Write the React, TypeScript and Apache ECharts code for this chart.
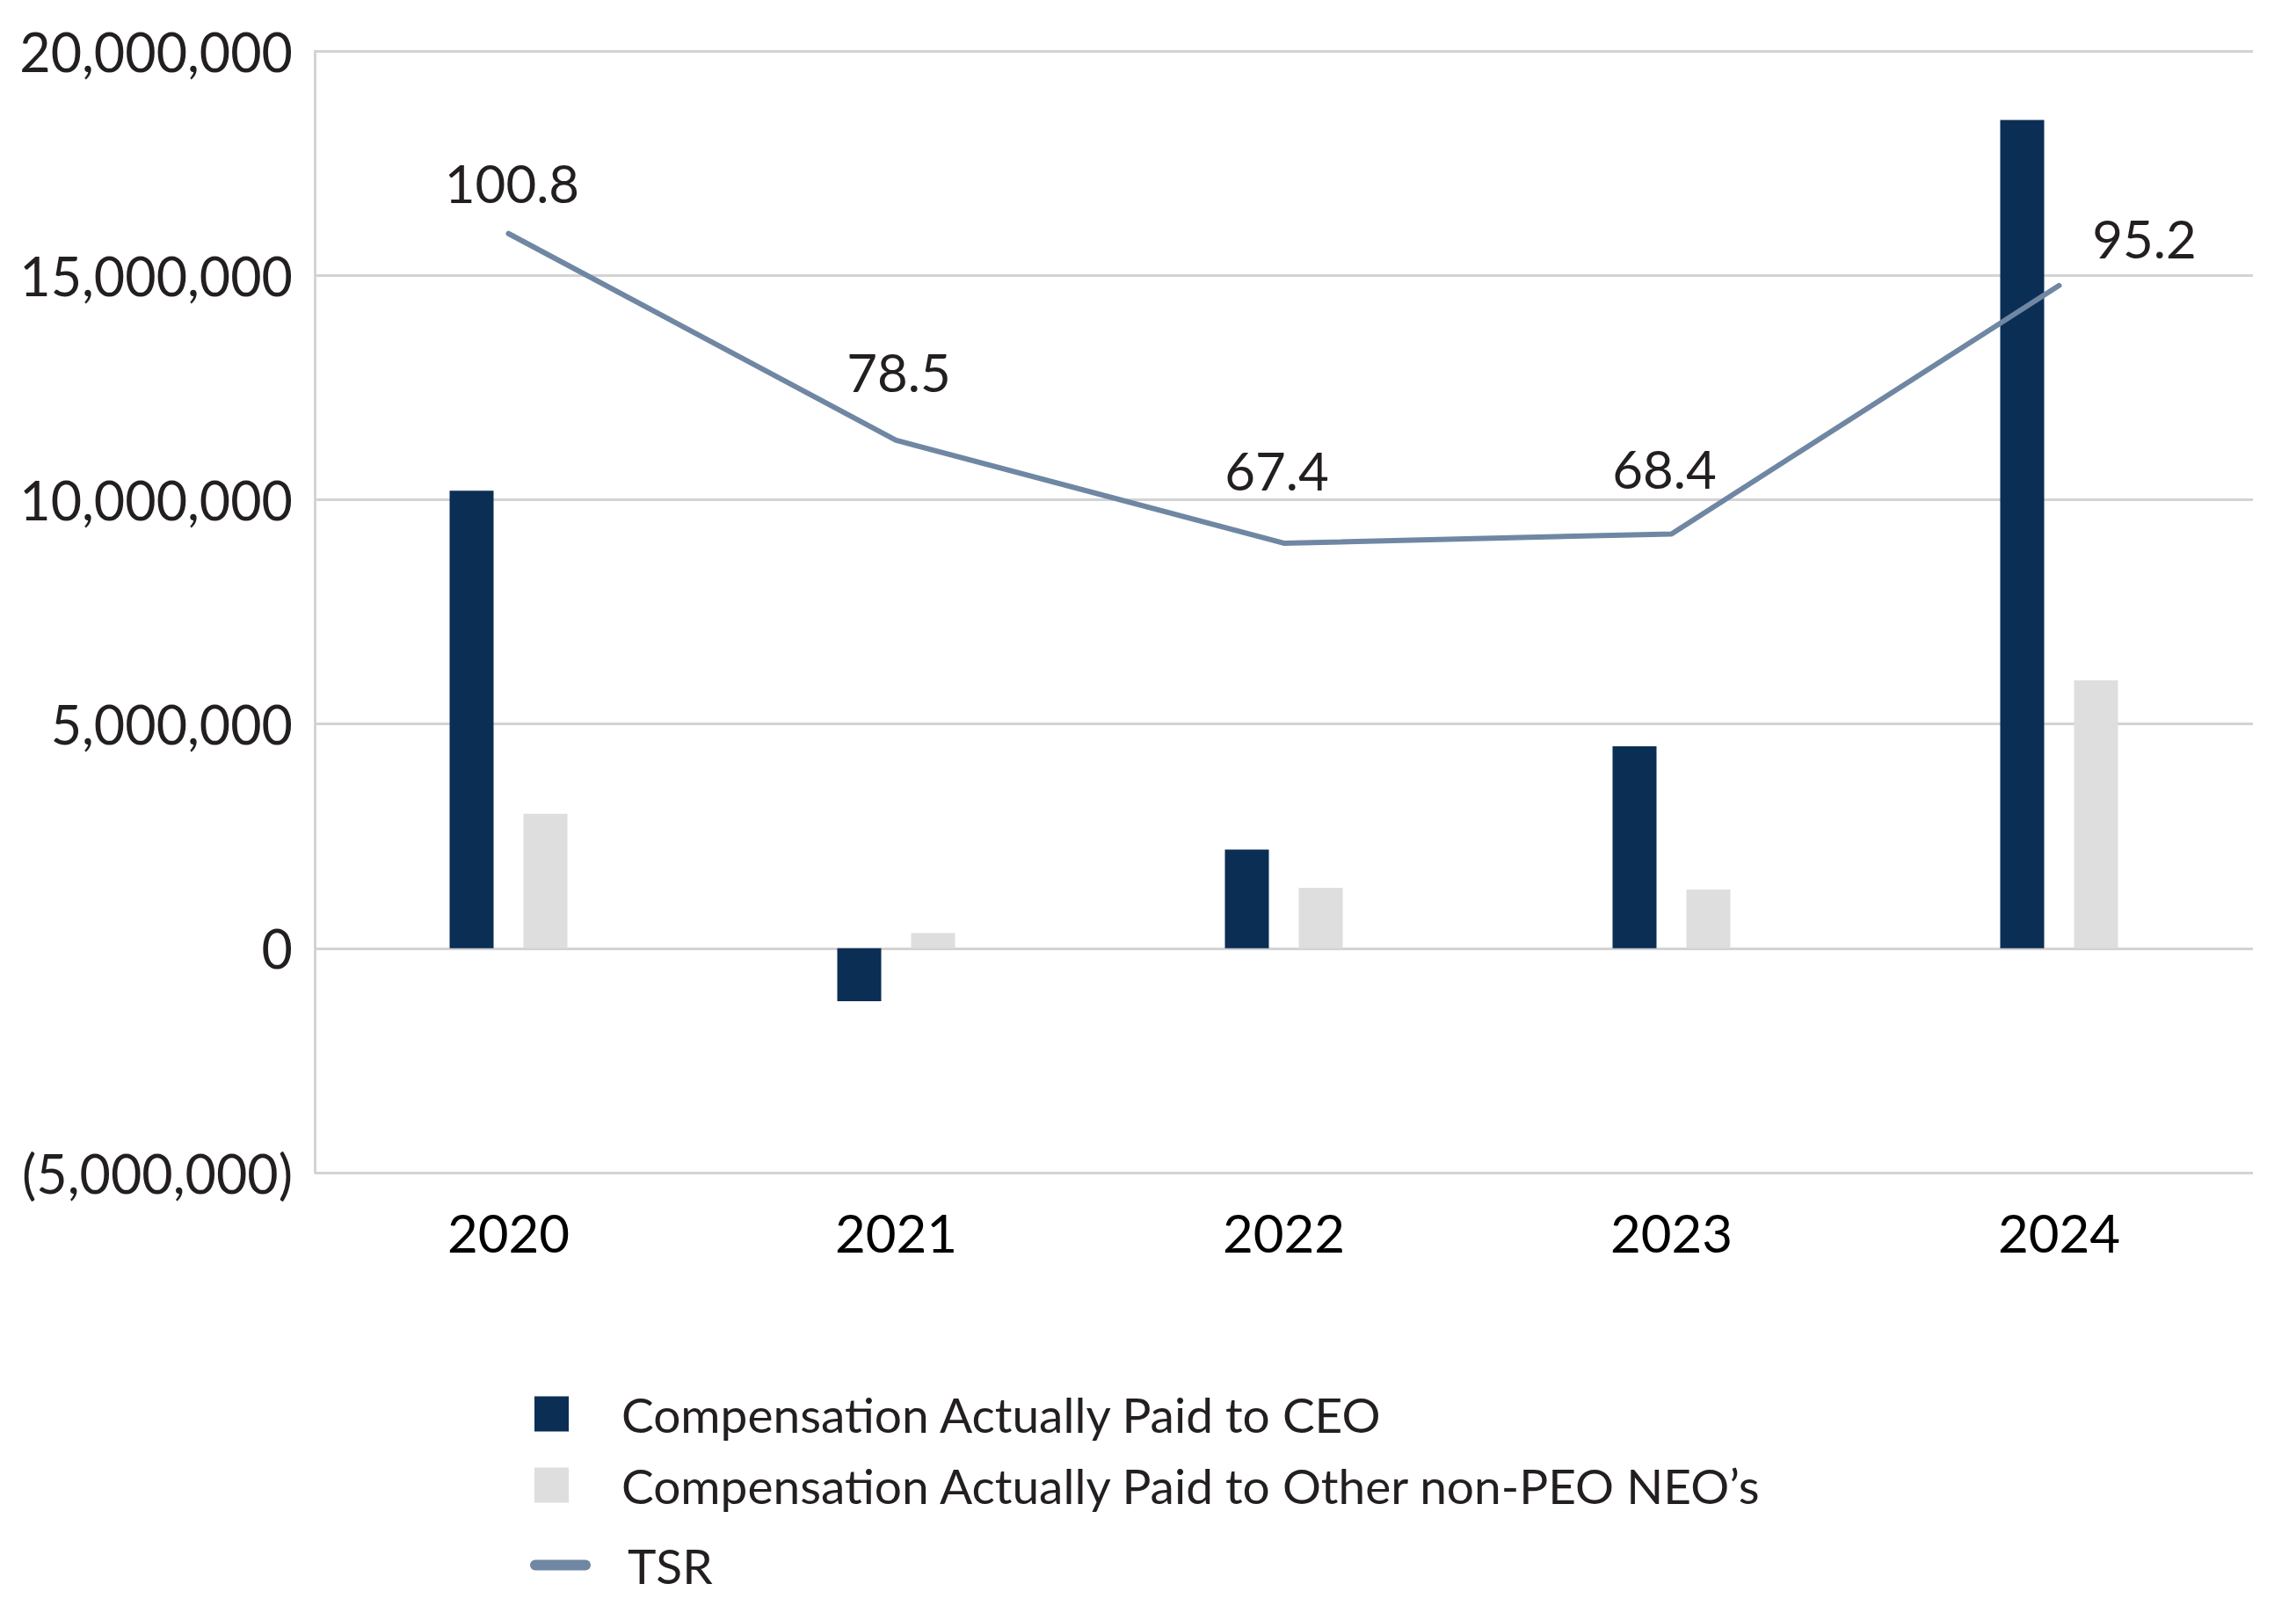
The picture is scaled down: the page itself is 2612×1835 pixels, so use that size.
import React, { useEffect, useRef } from "react";
import * as echarts from "echarts";

const years = ["2020", "2021", "2022", "2023", "2024"];
const ceoPaid = [10200000, -1180000, 2200000, 4500000, 18460000];
const otherPaid = [3000000, 340000, 1350000, 1310000, 5970000];
const tsr = [100.8, 78.5, 67.4, 68.4, 95.2];
const tsrLabelOffsets: [number, number][] = [
  [4, -58],
  [3, -78],
  [-8, -83],
  [-8, -74],
  [97, -54],
];

const SERIES_CEO = "Compensation Actually Paid to CEO";
const SERIES_OTHER = "Compensation Actually Paid to Other non-PEO NEO\u2019s";
const SERIES_TSR = "TSR";

const FONT = "Lato, 'Open Sans', sans-serif";

function fmtMoney(v: number): string {
  const s = Math.abs(v).toLocaleString("en-US");
  return v < 0 ? `(${s})` : s;
}

export default function App() {
  const ref = useRef<HTMLDivElement>(null);

  useEffect(() => {
    if (!ref.current) return;
    const chart = echarts.init(ref.current, undefined, { renderer: "svg" });
    const legendText = {
      fontFamily: FONT,
      fontSize: 55,
      color: "#231f20",
    };
    chart.setOption({
      animation: false,
      backgroundColor: "#ffffff",
      grid: { left: 358, right: 49, top: 58, bottom: 501, containLabel: false },
      legend: [
        {
          data: [SERIES_CEO, SERIES_OTHER],
          orient: "vertical",
          left: 603,
          top: 1576,
          itemWidth: 39,
          itemHeight: 40,
          itemGap: 26,
          icon: "rect",
          selectedMode: false,
          textStyle: { ...legendText, padding: [0, 0, 0, 55] },
        },
        {
          data: [
            {
              name: SERIES_TSR,
              icon: "path://M6,0 L63,0 A6,6 0 0 1 63,12 L6,12 A6,6 0 0 1 6,0 Z",
            },
          ],
          orient: "vertical",
          left: 598,
          top: 1748,
          itemWidth: 69,
          itemHeight: 12,
          selectedMode: false,
          textStyle: { ...legendText, padding: [0, 0, 0, 37] },
        },
      ],
      xAxis: {
        type: "category",
        data: years,
        axisLine: { show: false, onZero: false },
        axisTick: { show: false },
        axisLabel: {
          margin: 38,
          fontFamily: FONT,
          fontSize: 60,
          color: "#000000",
        },
      },
      yAxis: [
        {
          type: "value",
          min: -5000000,
          max: 20000000,
          interval: 5000000,
          axisLine: { show: true, lineStyle: { color: "#d3d3d3", width: 3 } },
          axisTick: { show: false },
          splitLine: { show: true, lineStyle: { color: "#d3d3d3", width: 3 } },
          axisLabel: {
            margin: 25,
            fontFamily: FONT,
            fontSize: 61,
            color: "#231f20",
            formatter: (v: number) => fmtMoney(v),
          },
        },
        {
          type: "value",
          min: -0.5,
          max: 120.5,
          show: false,
          splitLine: { show: false },
        },
      ],
      series: [
        {
          name: SERIES_CEO,
          type: "bar",
          data: ceoPaid,
          barWidth: 50,
          barGap: "68%",
          itemStyle: { color: "#0b2e55" },
        },
        {
          name: SERIES_OTHER,
          type: "bar",
          data: otherPaid,
          barWidth: 50,
          itemStyle: { color: "#dedede" },
        },
        {
          name: SERIES_TSR,
          type: "line",
          yAxisIndex: 1,
          data: tsr.map((v, i) => ({
            value: v,
            label: { offset: tsrLabelOffsets[i] },
          })),
          symbol: "circle",
          symbolSize: 1,
          showSymbol: true,
          itemStyle: { color: "#6f87a3" },
          lineStyle: { color: "#6f87a3", width: 6, cap: "round", join: "round" },
          label: {
            show: true,
            position: "inside",
            fontFamily: FONT,
            fontSize: 60,
            color: "#231f20",
            formatter: (p: any) => Number(p.value).toFixed(1),
          },
          z: 5,
        },
      ],
    });
    return () => chart.dispose();
  }, []);

  return (
    <div
      ref={ref}
      style={{
        position: "fixed",
        left: 0,
        top: 0,
        width: 2612,
        height: 1835,
        background: "#ffffff",
      }}
    />
  );
}
